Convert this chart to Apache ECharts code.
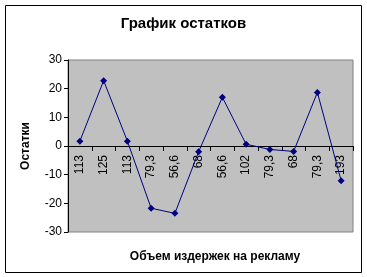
<!DOCTYPE html>
<html><head><meta charset="utf-8">
<script src="https://cdn.jsdelivr.net/npm/echarts@6/dist/echarts.min.js"></script>
<style>html,body{margin:0;padding:0;background:#fff}#c{width:367px;height:277px}</style>
</head><body><div id="c"></div>
<script>
const categories = ['113','125','113','79,3','56,6','68','56,6','102','79,3','68','79,3','193'];
const residuals = [1.7, 22.8, 1.7, -21.7, -23.5, -2, 17, 0.6, -1.2, -1.9, 18.7, -12.1];
const yTicks = {min: -30, max: 30, interval: 10};
const chart = echarts.init(document.getElementById('c'), null, {renderer: 'canvas'});
chart.setOption({
  animation: false,
  backgroundColor: '#ffffff',
  graphic: [{type: 'rect', shape: {x: 5.5, y: 5.5, width: 356, height: 267}, style: {fill: 'none', stroke: '#000', lineWidth: 1}, silent: true}],
  title: [
    {text: 'График остатков', left: 'center', top: 11, textStyle: {fontFamily: 'Liberation Sans, Arial', fontSize: 15, fontWeight: 'bold', color: '#000'}},
    {text: 'Объем издержек на рекламу', left: 210, top: 246, textAlign: 'center', textStyle: {fontFamily: 'Liberation Sans, Arial', fontSize: 12, fontWeight: 'bold', color: '#000'}}
  ],
  grid: {left: 68, top: 60, width: 285, height: 172, show: true, backgroundColor: '#c0c0c0', borderColor: '#808080', borderWidth: 1},
  xAxis: {
    type: 'category', data: categories, boundaryGap: true,
    position: 'bottom', offset: -86,
    axisLine: {onZero: false, lineStyle: {color: '#000', width: 1}},
    axisTick: {show: true, alignWithLabel: false, length: 5, lineStyle: {color: '#000'}},
    axisLabel: {rotate: 90, color: '#000', fontFamily: 'Liberation Sans, Arial', fontSize: 12, margin: 9, interval: 0},
    splitLine: {show: false}
  },
  yAxis: {
    type: 'value', min: yTicks.min, max: yTicks.max, interval: yTicks.interval,
    name: 'Остатки', nameLocation: 'middle', nameRotate: 90, nameGap: 36,
    nameTextStyle: {fontFamily: 'Liberation Sans, Arial', fontSize: 12, fontWeight: 'bold', color: '#000'},
    axisLine: {show: true, lineStyle: {color: '#000', width: 1}},
    axisTick: {show: true, length: 4, lineStyle: {color: '#000'}},
    axisLabel: {color: '#000', fontFamily: 'Liberation Sans, Arial', fontSize: 12, margin: 6},
    splitLine: {show: false}
  },
  series: [{
    type: 'line', data: residuals,
    symbol: 'diamond', symbolSize: 7,
    lineStyle: {color: '#000080', width: 1},
    itemStyle: {color: '#000080'}
  }]
});
</script></body></html>
